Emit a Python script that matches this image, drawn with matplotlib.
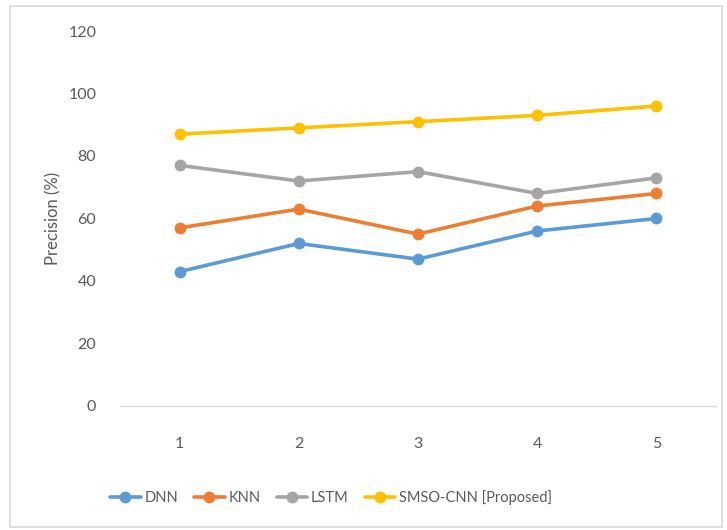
import matplotlib.pyplot as plt
from matplotlib.patches import Rectangle

plt.rcParams["font.family"] = ["Lato", "DejaVu Sans"]

categories = [1, 2, 3, 4, 5]
dnn = [43, 52, 47, 56, 60]
knn = [57, 63, 55, 64, 68]
lstm = [77, 72, 75, 68, 73]
smso = [87, 89, 91, 93, 96]
series_names = ["DNN", "KNN", "LSTM", "SMSO-CNN [Proposed]"]
colors = ["#5B9BD5", "#ED7D31", "#A5A5A5", "#FFC000"]

fig = plt.figure(figsize=(7.27, 5.30), dpi=100)
ax = fig.add_axes([0.165, 0.234, 0.820, 0.7075])

x = list(range(len(categories)))
for vals, name, c in zip([dnn, knn, lstm, smso], series_names, colors):
    ax.plot(x, vals, color=c, linewidth=2.6, marker="o", markersize=7.5,
            solid_capstyle="round", label=name)

ax.set_xlim(-0.5, len(categories) - 0.5)
ax.set_ylim(0, 120)
ax.set_yticks(range(0, 121, 20))
ax.set_xticks(x)
ax.set_xticklabels([str(c) for c in categories])
for s in ["top", "right", "left"]:
    ax.spines[s].set_visible(False)
ax.spines["bottom"].set_color("#D9D9D9")
ax.spines["bottom"].set_linewidth(1.0)
ax.tick_params(axis="both", length=0, labelsize=11.5, colors="#595959")
ax.tick_params(axis="y", pad=17)
ax.tick_params(axis="x", pad=22)
ax.set_ylabel("Precision (%)", fontsize=12, color="#595959", labelpad=5)

ax.legend(loc="center", bbox_to_anchor=(331 / 727, 32 / 530),
          bbox_transform=fig.transFigure, ncol=4, frameon=False,
          fontsize=10.5, labelcolor="#595959", handlelength=2.1,
          columnspacing=1.1, handletextpad=0.25)

# thin outer frame around the chart area
fig.patches.append(Rectangle((10 / 727, 3 / 530), 712 / 727, 521 / 530,
                             transform=fig.transFigure, fill=False,
                             edgecolor="#D9D9D9", linewidth=1.2))

fig.savefig("out.png", dpi=100)
